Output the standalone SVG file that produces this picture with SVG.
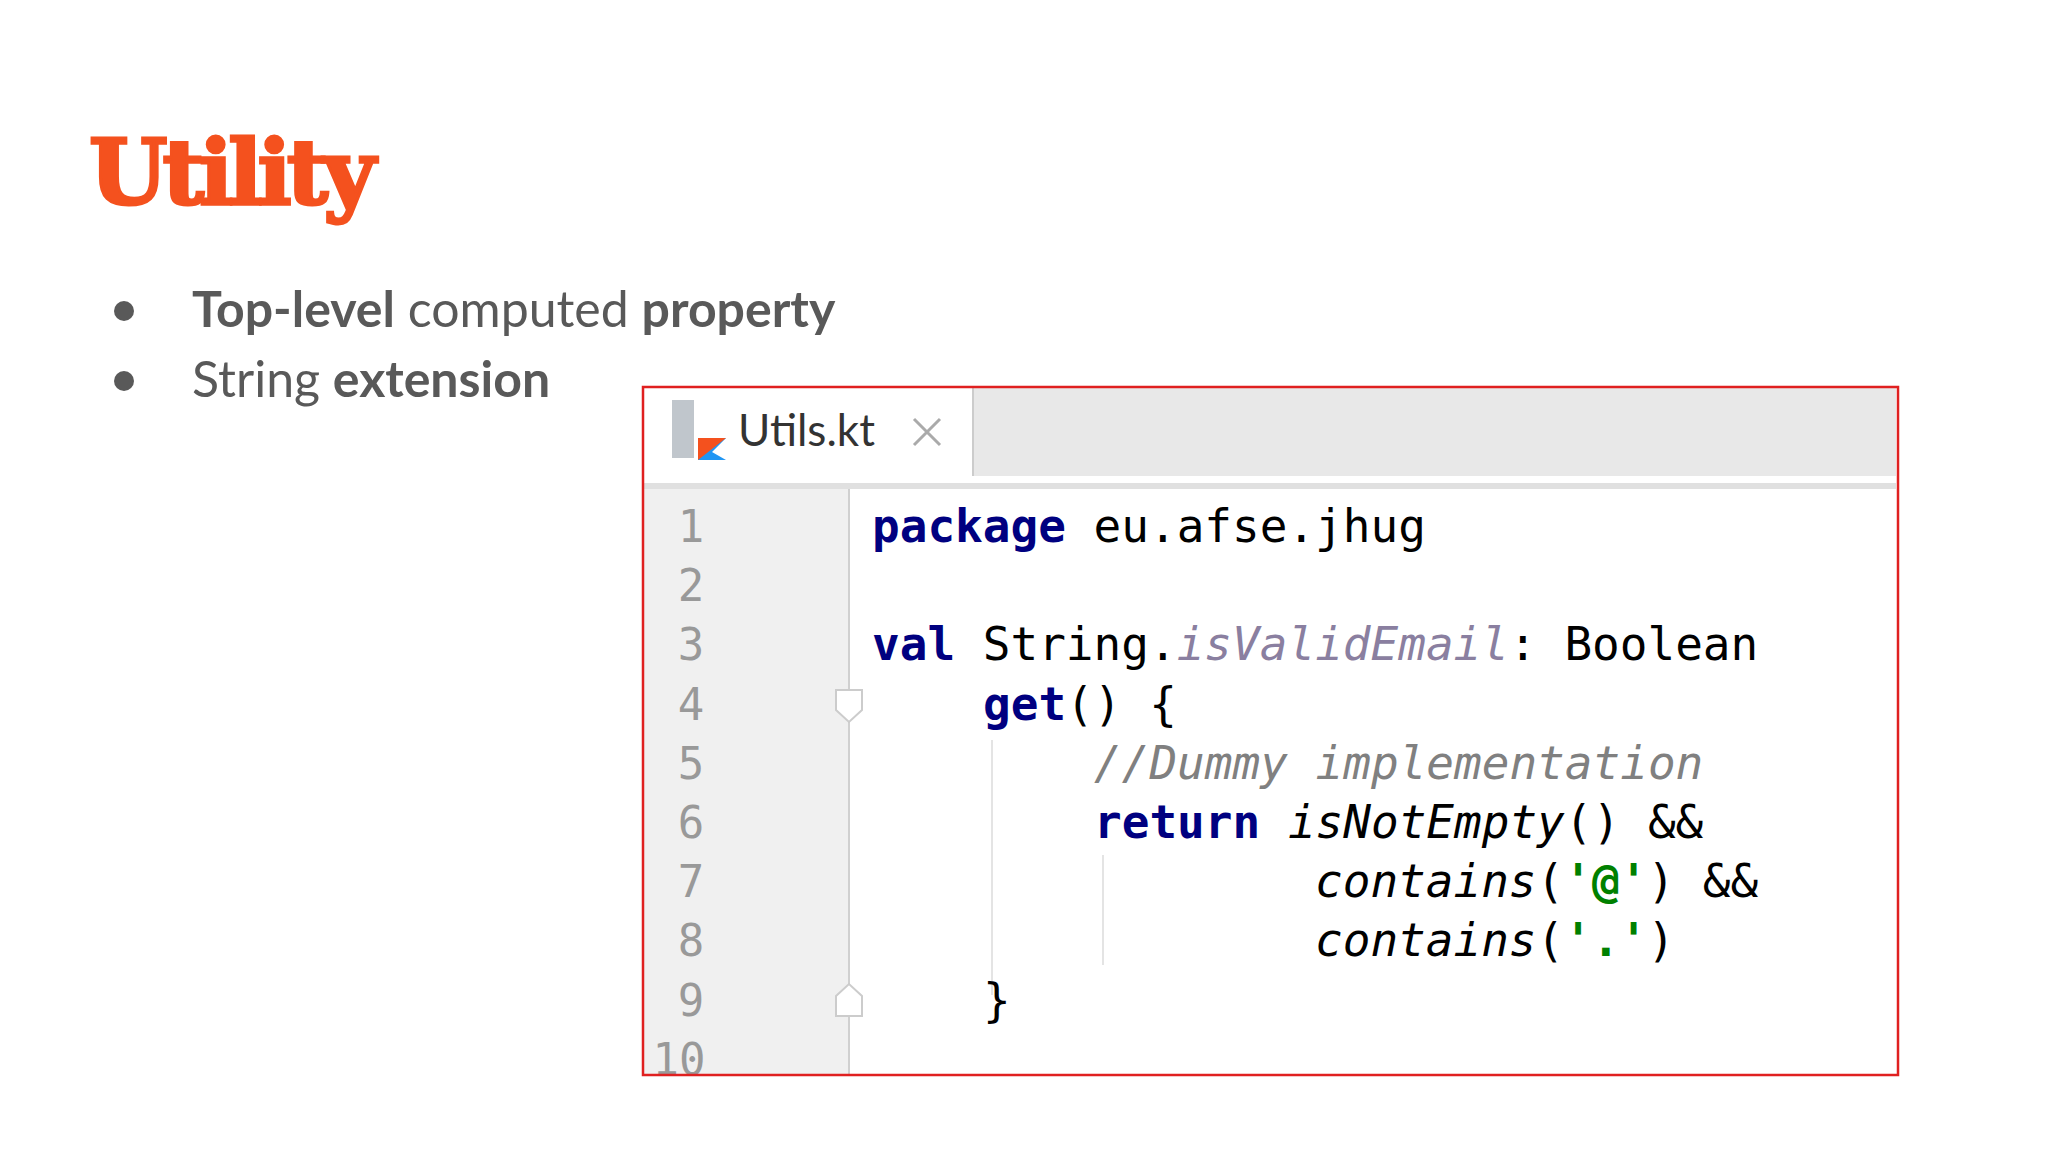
<svg xmlns="http://www.w3.org/2000/svg" width="2048" height="1152" viewBox="0 0 2048 1152">
<style>
.b{font-family:"Lato","Open Sans",sans-serif;font-size:50px;fill:#595959}
.bb{font-weight:700}
.c{font-family:"DejaVu Sans Mono",monospace;font-size:46px;fill:#000;white-space:pre}
.k{fill:#000080;font-weight:700}
.i{font-style:italic}
.n{font-family:"DejaVu Sans Mono",monospace;font-size:44px;fill:#999;text-anchor:middle}
</style>
<rect width="2048" height="1152" fill="#fff"/>
<g id="title"><text x="89" y="204" font-family="DejaVu Serif,serif" font-weight="900" font-size="90" fill="#f4511e" letter-spacing="-5" stroke="#f4511e" stroke-width="3">Utility</text></g>
<g id="bullets">
<circle cx="124" cy="311" r="10" fill="#595959"/>
<circle cx="124" cy="381" r="10" fill="#595959"/>
<text class="b" x="192" y="327"><tspan class="bb">Top-level</tspan> computed <tspan class="bb">property</tspan></text>
<text class="b" x="192" y="397">String <tspan class="bb">extension</tspan></text>
</g>
<g id="editor">
<rect x="643" y="387" width="1255" height="688" fill="#fff"/>
<rect x="973" y="388" width="923" height="88" fill="#e8e8e8"/>
<line x1="973" y1="388" x2="973" y2="476" stroke="#ccc" stroke-width="2"/>
<rect x="644" y="483" width="1252" height="6" fill="#e0e0e0"/>
<rect x="644" y="489" width="205" height="585" fill="#f0f0f0"/>
<line x1="849" y1="489" x2="849" y2="1074" stroke="#d0d0d0" stroke-width="2"/>
<rect x="672" y="400" width="22" height="58" fill="#c0c6cc"/>
<polygon points="698,438 726,438 712,452 726,460 698,460" fill="#2196f3"/>
<polygon points="698,438 726,438 698,460" fill="#f4511e"/>
<text x="738" y="446" font-family="Lato,sans-serif" font-size="44" fill="#333">Utils.kt</text>
<path d="M914 419 l26 26 M940 419 l-26 26" stroke="#aaa" stroke-width="3"/>
<g class="n">
<text x="691" y="542">1</text><text x="691" y="601">2</text><text x="691" y="660">3</text><text x="691" y="720">4</text><text x="691" y="779">5</text><text x="691" y="838">6</text><text x="691" y="897">7</text><text x="691" y="956">8</text><text x="691" y="1016">9</text><text x="679" y="1075">10</text>
</g>
<path d="M836 690 h26 v20 l-13 12 l-13 -12 z" fill="#fff" stroke="#ccc" stroke-width="2"/>
<path d="M836 1016 h26 v-20 l-13 -12 l-13 12 z" fill="#fff" stroke="#ccc" stroke-width="2"/>
<line x1="992" y1="740" x2="992" y2="995" stroke="#e4e4e4" stroke-width="2"/>
<line x1="1103" y1="855" x2="1103" y2="965" stroke="#e4e4e4" stroke-width="2"/>
<g class="c">
<text x="872" y="542"><tspan class="k">package</tspan> eu.afse.jhug</text>
<text x="872" y="660"><tspan class="k">val</tspan> String.<tspan class="i" style="fill:#8a7fa0">isValidEmail</tspan>: Boolean</text>
<text x="983" y="720"><tspan class="k">get</tspan>() {</text>
<text x="1094" y="779" class="i" style="fill:#808080">//Dummy implementation</text>
<text x="1094" y="838"><tspan class="k">return</tspan> <tspan class="i">isNotEmpty</tspan>() &amp;&amp;</text>
<text x="1315" y="897"><tspan class="i">contains</tspan>(<tspan fill="#008000" font-weight="700">'@'</tspan>) &amp;&amp;</text>
<text x="1315" y="956"><tspan class="i">contains</tspan>(<tspan fill="#008000" font-weight="700">'.'</tspan>)</text>
<text x="983" y="1016">}</text>
</g>
<rect x="643" y="387" width="1255" height="688" fill="none" stroke="#e02020" stroke-width="2.5"/>
</g>
</svg>
